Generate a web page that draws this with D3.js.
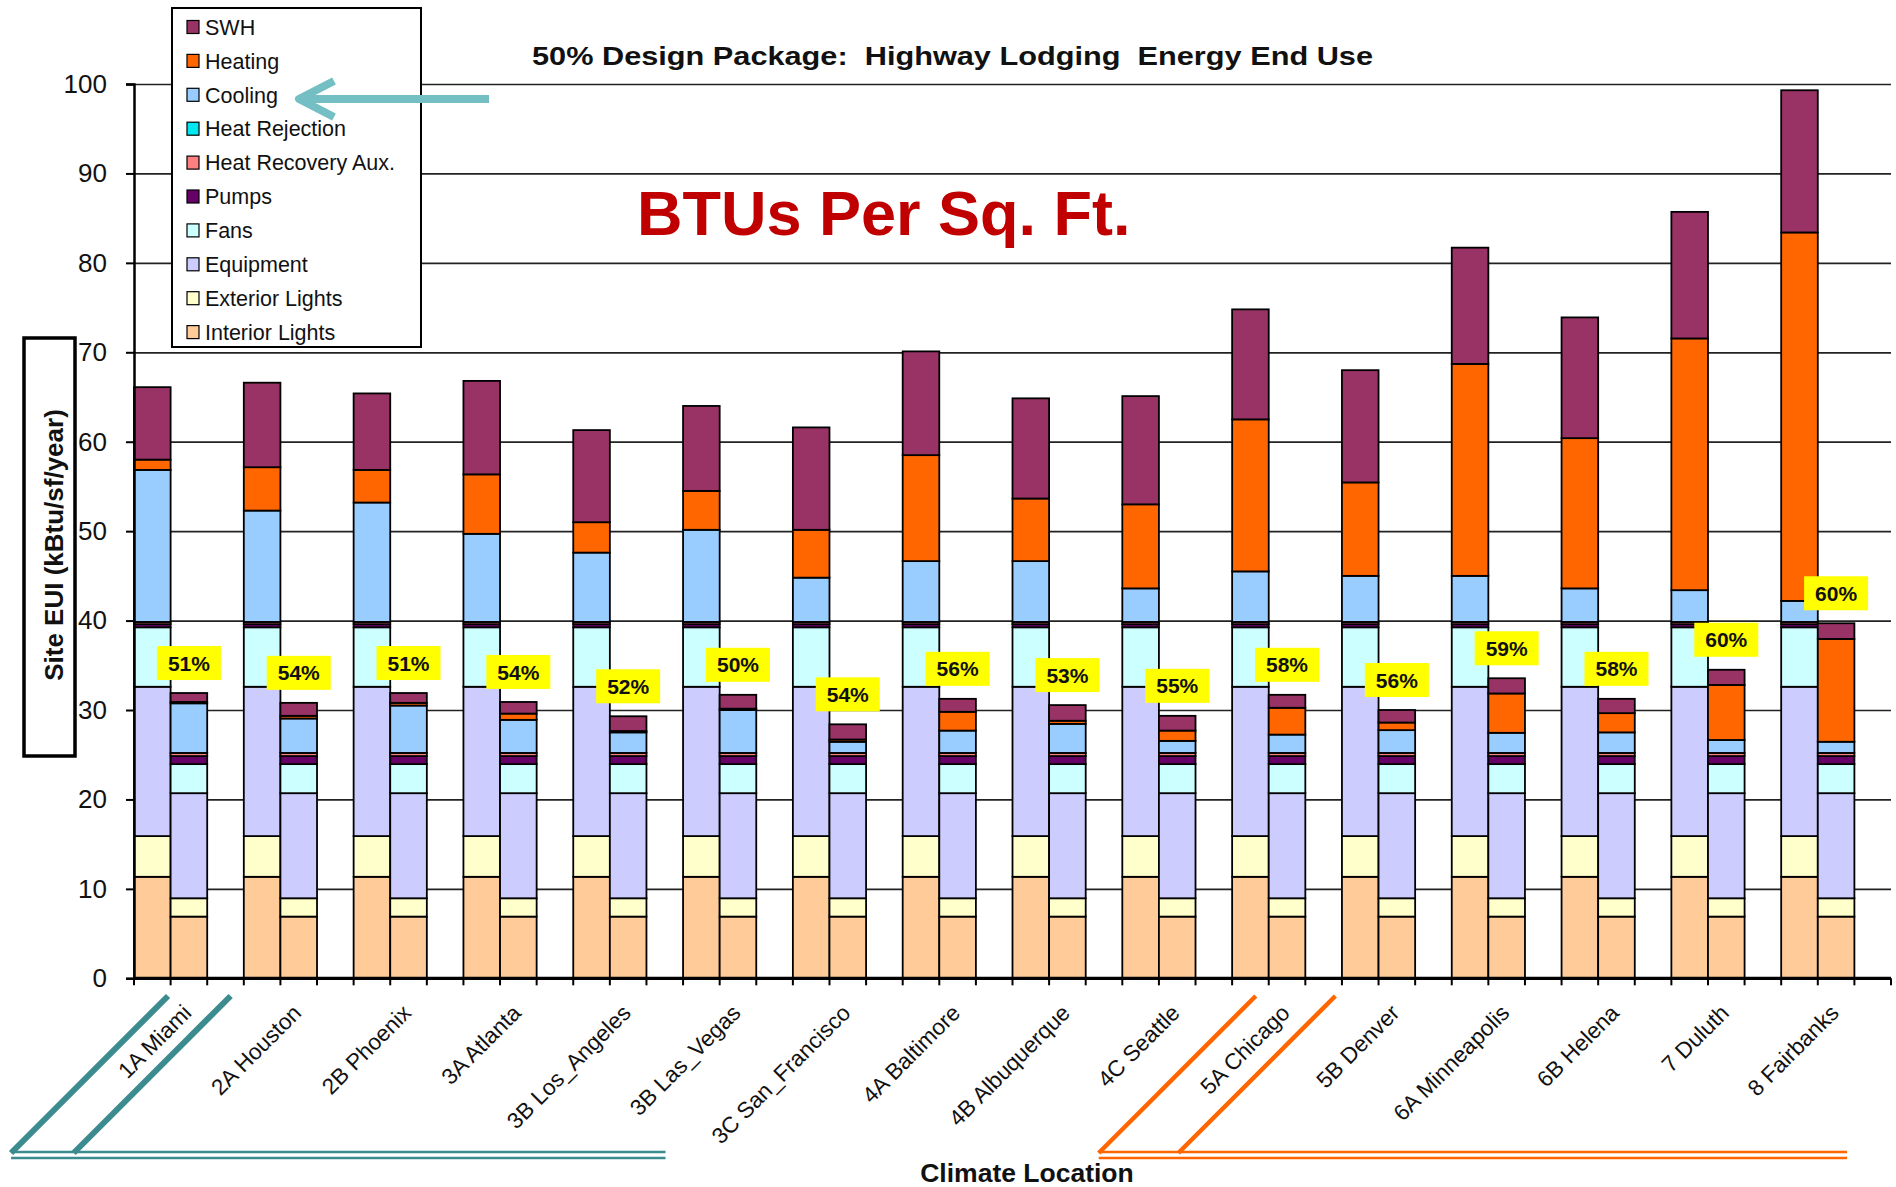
<!DOCTYPE html>
<html>
<head>
<meta charset="utf-8">
<title>50% Design Package: Highway Lodging Energy End Use</title>
<script src="https://cdn.jsdelivr.net/npm/d3@7"></script>
<style>
  html, body { margin: 0; padding: 0; background: #ffffff; }
  svg { display: block; font-family: "Liberation Sans", Arial, sans-serif; }
</style>
</head>
<body>
<svg id="chart" width="1896" height="1187"></svg>
<script>
// ---- Data -------------------------------------------------------------
const locations = [
  "1A Miami", "2A Houston", "2B Phoenix", "3A Atlanta", "3B Los_Angeles",
  "3B Las_Vegas", "3C San_Francisco", "4A Baltimore", "4B Albuquerque",
  "4C Seattle", "5A Chicago", "5B Denver", "6A Minneapolis", "6B Helena",
  "7 Duluth", "8 Fairbanks"
];

// stacking order, bottom to top
const endUses = [
  "Interior Lights", "Exterior Lights", "Equipment", "Fans", "Pumps",
  "Heat Recovery Aux.", "Heat Rejection", "Cooling", "Heating", "SWH"
];

const endUseColors = [
  "#FFCC99", "#FFFFCC", "#CCCCFF", "#CCFFFF", "#660066",
  "#FF8080", "#00E8F0", "#99CCFF", "#FF6600", "#993366"
];

// Baseline building (kBtu/sf/year)
const baseInteriorLights = [11.35, 11.35, 11.35, 11.35, 11.35, 11.35, 11.35, 11.35, 11.35, 11.35, 11.35, 11.35, 11.35, 11.35, 11.35, 11.35];
const baseExteriorLights = [4.55, 4.55, 4.55, 4.55, 4.55, 4.55, 4.55, 4.55, 4.55, 4.55, 4.55, 4.55, 4.55, 4.55, 4.55, 4.55];
const baseEquipment      = [16.7, 16.7, 16.7, 16.7, 16.7, 16.7, 16.7, 16.7, 16.7, 16.7, 16.7, 16.7, 16.7, 16.7, 16.7, 16.7];
const baseFans           = [6.65, 6.65, 6.65, 6.65, 6.65, 6.65, 6.65, 6.65, 6.65, 6.65, 6.65, 6.65, 6.65, 6.65, 6.65, 6.65];
const basePumps          = [0.35, 0.35, 0.35, 0.35, 0.35, 0.35, 0.35, 0.35, 0.35, 0.35, 0.35, 0.35, 0.35, 0.35, 0.35, 0.35];
const baseHeatRecAux     = [0.25, 0.25, 0.25, 0.25, 0.25, 0.25, 0.25, 0.25, 0.25, 0.25, 0.25, 0.25, 0.25, 0.25, 0.25, 0.25];
const baseHeatRejection  = [0, 0, 0, 0, 0, 0, 0, 0, 0, 0, 0, 0, 0, 0, 0, 0];
const baseCooling        = [17.0, 12.45, 13.35, 9.85, 7.75, 10.3, 4.95, 6.8, 6.8, 3.75, 5.65, 5.15, 5.15, 3.75, 3.55, 2.35];
const baseHeating        = [1.15, 4.85, 3.65, 6.65, 3.4, 4.35, 5.35, 11.85, 7.0, 9.4, 17.0, 10.45, 23.7, 16.8, 28.15, 41.2];
const baseSWH            = [8.1, 9.45, 8.55, 10.45, 10.3, 9.5, 11.45, 11.6, 11.2, 12.1, 12.3, 12.55, 13.0, 13.5, 14.15, 15.9];

// 50% design package (kBtu/sf/year)
const designInteriorLights = [6.9, 6.9, 6.9, 6.9, 6.9, 6.9, 6.9, 6.9, 6.9, 6.9, 6.9, 6.9, 6.9, 6.9, 6.9, 6.9];
const designExteriorLights = [2.05, 2.05, 2.05, 2.05, 2.05, 2.05, 2.05, 2.05, 2.05, 2.05, 2.05, 2.05, 2.05, 2.05, 2.05, 2.05];
const designEquipment      = [11.75, 11.75, 11.75, 11.75, 11.75, 11.75, 11.75, 11.75, 11.75, 11.75, 11.75, 11.75, 11.75, 11.75, 11.75, 11.75];
const designFans           = [3.25, 3.25, 3.25, 3.25, 3.25, 3.25, 3.25, 3.25, 3.25, 3.25, 3.25, 3.25, 3.25, 3.25, 3.25, 3.25];
const designPumps          = [0.9, 0.9, 0.9, 0.9, 0.9, 0.9, 0.9, 0.9, 0.9, 0.9, 0.9, 0.9, 0.9, 0.9, 0.9, 0.9];
const designHeatRecAux     = [0.35, 0.35, 0.35, 0.35, 0.35, 0.35, 0.35, 0.35, 0.35, 0.35, 0.35, 0.35, 0.35, 0.35, 0.35, 0.35];
const designHeatRejection  = [0, 0, 0, 0, 0, 0, 0, 0, 0, 0, 0, 0, 0, 0, 0, 0];
const designCooling        = [5.55, 3.85, 5.3, 3.7, 2.3, 4.8, 1.25, 2.5, 3.25, 1.35, 2.05, 2.55, 2.25, 2.3, 1.45, 1.25];
const designHeating        = [0.15, 0.3, 0.3, 0.7, 0.15, 0.15, 0.25, 2.1, 0.35, 1.15, 3.0, 0.85, 4.4, 2.15, 6.15, 11.5];
const designSWH            = [1.0, 1.45, 1.1, 1.3, 1.65, 1.55, 1.7, 1.45, 1.75, 1.65, 1.45, 1.4, 1.7, 1.6, 1.7, 1.75];

// savings of the design package against the baseline
const savingsLabels = ["51%", "54%", "51%", "54%", "52%", "50%", "54%", "56%", "53%", "55%", "58%", "56%", "59%", "58%", "60%", "60%"];

const yTicks = [0, 10, 20, 30, 40, 50, 60, 70, 80, 90, 100];

// ---- Build stack rows -------------------------------------------------
const baseSeries = [baseInteriorLights, baseExteriorLights, baseEquipment, baseFans, basePumps,
                    baseHeatRecAux, baseHeatRejection, baseCooling, baseHeating, baseSWH];
const designSeries = [designInteriorLights, designExteriorLights, designEquipment, designFans, designPumps,
                      designHeatRecAux, designHeatRejection, designCooling, designHeating, designSWH];

const rows = [];
locations.forEach((loc, i) => {
  const b = { location: loc, scenario: 0 };
  const d = { location: loc, scenario: 1 };
  endUses.forEach((k, j) => { b[k] = baseSeries[j][i]; d[k] = designSeries[j][i]; });
  rows.push(b, d);
});

const stacked = d3.stack().keys(endUses)(rows);

// ---- Scales -----------------------------------------------------------
const plotLeft = 134, plotRight = 1891, plotTop = 84, plotBottom = 978.3;

const x = d3.scaleBand().domain(locations).range([plotLeft, plotRight]).paddingInner(0).paddingOuter(0);
const slot = x.bandwidth() / 3;          // baseline bar, design bar, gap
const y = d3.scaleLinear().domain([0, 100]).range([plotBottom, plotTop]);
const color = d3.scaleOrdinal().domain(endUses).range(endUseColors);

const svg = d3.select("#chart");
const font = '"Liberation Sans", Arial, sans-serif';

// ---- Gridlines --------------------------------------------------------
svg.append("g")
  .attr("transform", `translate(${plotLeft},0)`)
  .call(d3.axisLeft(y).tickValues(yTicks.filter(t => t > 0)).tickSize(-(plotRight - plotLeft)).tickFormat(""))
  .call(g => g.select(".domain").remove())
  .call(g => g.selectAll("line").attr("stroke", "#222").attr("stroke-width", 1.7));

// ---- Bars -------------------------------------------------------------
const layers = svg.append("g").selectAll("g")
  .data(stacked)
  .join("g")
  .attr("fill", d => color(d.key));

layers.selectAll("rect")
  .data(d => d)
  .join("rect")
  .attr("x", d => x(d.data.location) + d.data.scenario * slot)
  .attr("width", slot)
  .attr("y", d => y(d[1]))
  .attr("height", d => Math.max(0, y(d[0]) - y(d[1])))
  .attr("stroke", d => (d[1] - d[0]) > 0 ? "#000" : "none")
  .attr("stroke-width", 1.8);

// ---- Y axis -----------------------------------------------------------
const yAxis = svg.append("g")
  .attr("transform", `translate(${plotLeft},0)`)
  .call(d3.axisLeft(y).tickValues(yTicks).tickSize(8).tickPadding(19).tickFormat(d3.format("d")));
yAxis.select(".domain").attr("stroke", "#000").attr("stroke-width", 2.5);
yAxis.selectAll("line").attr("stroke", "#000").attr("stroke-width", 2);
yAxis.selectAll("text").attr("font-family", font).attr("font-size", 26).attr("fill", "#111");

// ---- X axis -----------------------------------------------------------
const xAxis = svg.append("g");
xAxis.append("line")
  .attr("x1", plotLeft).attr("x2", plotRight)
  .attr("y1", y(0)).attr("y2", y(0))
  .attr("stroke", "#000").attr("stroke-width", 3.2);

const tickXs = [];
locations.forEach(loc => { for (let k = 0; k < 3; k++) tickXs.push(x(loc) + k * slot); });
tickXs.push(plotRight);
xAxis.selectAll("line.tick")
  .data(tickXs)
  .join("line")
  .attr("class", "tick")
  .attr("x1", d => d).attr("x2", d => d)
  .attr("y1", y(0)).attr("y2", y(0) + 7)
  .attr("stroke", "#000").attr("stroke-width", 2);

xAxis.selectAll("text.cat")
  .data(locations)
  .join("text")
  .attr("class", "cat")
  .attr("transform", d => `translate(${x(d) + x.bandwidth() / 2 + 4},${y(0) + 36}) rotate(-45)`)
  .attr("text-anchor", "end")
  .attr("font-family", font)
  .attr("font-size", 22.5)
  .attr("fill", "#111")
  .text(d => d);

// ---- Savings labels ---------------------------------------------------
const designTotals = locations.map((loc, i) => d3.sum(designSeries, s => s[i]));
const lab = svg.append("g").selectAll("g")
  .data(locations)
  .join("g")
  .attr("transform", (d, i) => `translate(${x(d) + x.bandwidth() / 2},${y(designTotals[i]) - 30})`);
lab.append("rect")
  .attr("x", -32).attr("y", -17).attr("width", 64).attr("height", 34)
  .attr("fill", "#FFFF00");
lab.append("text")
  .attr("text-anchor", "middle")
  .attr("dy", "0.36em")
  .attr("font-family", font)
  .attr("font-weight", "bold")
  .attr("font-size", 21)
  .attr("fill", "#111")
  .text((d, i) => savingsLabels[i]);

// ---- Legend -----------------------------------------------------------
const legend = svg.append("g");
legend.append("rect")
  .attr("x", 172).attr("y", 8).attr("width", 249).attr("height", 339)
  .attr("fill", "#fff").attr("stroke", "#000").attr("stroke-width", 2);
const legendItems = endUses.slice().reverse();
const li = legend.selectAll("g.item")
  .data(legendItems)
  .join("g")
  .attr("class", "item")
  .attr("transform", (d, i) => `translate(187,${27 + i * 33.9})`);
li.append("rect")
  .attr("x", 0).attr("y", -6.5).attr("width", 12).attr("height", 13)
  .attr("fill", d => color(d)).attr("stroke", "#000").attr("stroke-width", 1.2);
li.append("text")
  .attr("x", 18).attr("dy", "0.36em")
  .attr("font-family", font).attr("font-size", 21.5).attr("fill", "#111")
  .text(d => d);

// pointer arrow at the Cooling legend entry
svg.append("path")
  .attr("d", "M489,99 L301,99 M334,81 L299,99 L334,117")
  .attr("fill", "none")
  .attr("stroke", "#74BFC4")
  .attr("stroke-width", 8)
  .attr("stroke-linecap", "butt")
  .attr("stroke-linejoin", "round");

// ---- Titles -----------------------------------------------------------
svg.append("text")
  .attr("x", 532).attr("y", 65)
  .attr("font-family", font).attr("font-weight", "bold").attr("font-size", 26.5)
  .attr("fill", "#111")
  .attr("textLength", 841).attr("lengthAdjust", "spacingAndGlyphs")
  .style("white-space", "pre")
  .text("50% Design Package:  Highway Lodging  Energy End Use");

svg.append("text")
  .attr("x", 637).attr("y", 235)
  .attr("font-family", font).attr("font-weight", "bold").attr("font-size", 63)
  .attr("fill", "#C00000")
  .text("BTUs Per Sq. Ft.");

// y axis title in a framed box
svg.append("rect")
  .attr("x", 24).attr("y", 338).attr("width", 51).attr("height", 418)
  .attr("fill", "#fff").attr("stroke", "#000").attr("stroke-width", 3.5);
svg.append("text")
  .attr("transform", "translate(63,545) rotate(-90)")
  .attr("text-anchor", "middle")
  .attr("font-family", font).attr("font-weight", "bold").attr("font-size", 26)
  .attr("fill", "#111")
  .text("Site EUI (kBtu/sf/year)");

svg.append("text")
  .attr("x", 1027).attr("y", 1182)
  .attr("text-anchor", "middle")
  .attr("font-family", font).attr("font-weight", "bold").attr("font-size", 26.5)
  .attr("fill", "#111")
  .text("Climate Location");

// ---- Bracket annotations under the axis -------------------------------
function bracket(x1, x2, xEnd, color, diagWidth) {
  const g = svg.append("g").attr("stroke", color).attr("fill", "none");
  const top = 996, bottom = 1153, drop = bottom - top;
  [x1, x2].forEach(xt => {
    g.append("line")
      .attr("x1", xt).attr("y1", top).attr("x2", xt - drop).attr("y2", bottom)
      .attr("stroke-width", diagWidth);
  });
  [1152, 1158].forEach(yy => {
    g.append("line")
      .attr("x1", x1 - drop).attr("x2", xEnd).attr("y1", yy).attr("y2", yy)
      .attr("stroke-width", 2.4);
  });
}
const step = x.step();
bracket(x(locations[0]) + 0.31 * step, x(locations[0]) + 0.88 * step, x(locations[4]) + 0.84 * step, "#3B8B8F", 6);
bracket(x(locations[10]) + 0.215 * step, x(locations[10]) + 0.94 * step, x(locations[15]) + 0.6 * step, "#FF6600", 4.5);
</script>
</body>
</html>
